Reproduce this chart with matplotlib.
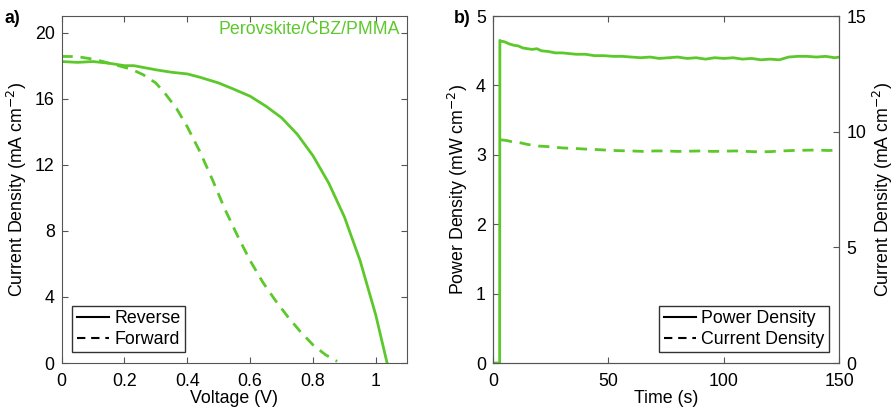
import numpy as np
import matplotlib
matplotlib.use("Agg")
import matplotlib.pyplot as plt

plt.rcParams['font.family'] = ['Liberation Sans', 'DejaVu Sans']
plt.rcParams['font.size'] = 12.8

green = "#5cc82c"

# panel a: J-V curves
v_rev = [0.0, 0.05, 0.1, 0.15, 0.2, 0.23, 0.3, 0.35, 0.40, 0.44, 0.5, 0.545, 0.6, 0.65, 0.7,
         0.75, 0.8, 0.85, 0.9, 0.95, 1.0, 1.036]
j_rev = [18.25, 18.2, 18.25, 18.15, 18.0, 18.0, 17.75, 17.6, 17.5, 17.3, 16.95, 16.6, 16.15, 15.55,
         14.85, 13.85, 12.55, 10.9, 8.85, 6.2, 2.9, 0.0]
v_fwd = [0.0, 0.05, 0.11, 0.16, 0.22, 0.26, 0.30, 0.33, 0.366, 0.40, 0.44, 0.48, 0.52, 0.56,
         0.60, 0.64, 0.68, 0.72, 0.76, 0.80, 0.84, 0.877]
j_fwd = [18.56, 18.55, 18.36, 18.1, 17.8, 17.45, 16.95, 16.3, 15.4, 14.3, 12.8, 11.1, 9.3, 7.7,
         6.2, 4.9, 3.8, 2.8, 1.9, 1.1, 0.5, 0.1]

# panel b: stabilised output
t_pow = [0, 2.9, 3.0, 3.5, 5, 7, 9, 11, 13, 15, 17, 19, 21, 24, 27, 30, 33, 36, 40, 44, 48, 52,
         56, 60, 64, 68, 72, 76, 80, 84, 88, 92, 96, 100, 104, 108, 112, 116, 120, 124, 128,
         132, 136, 140, 144, 148, 150]
p_pow = [0, 0, 4.65, 4.64, 4.63, 4.60, 4.58, 4.57, 4.54, 4.53, 4.52, 4.53, 4.50, 4.49, 4.47,
         4.47, 4.46, 4.45, 4.45, 4.43, 4.43, 4.42, 4.42, 4.41, 4.40, 4.41, 4.39, 4.40, 4.41,
         4.39, 4.40, 4.38, 4.40, 4.39, 4.40, 4.38, 4.39, 4.37, 4.38, 4.37, 4.41, 4.42, 4.42,
         4.41, 4.42, 4.40, 4.41]
t_cur = [3.5, 6, 9, 12, 15, 20, 25, 30, 35, 40, 45, 50, 55, 60, 65, 70, 75, 80, 85, 90, 95, 100,
         105, 110, 115, 120, 125, 130, 135, 140, 145, 150]
j_cur = [9.65, 9.62, 9.55, 9.52, 9.45, 9.38, 9.35, 9.3, 9.28, 9.25, 9.23, 9.2, 9.18, 9.17, 9.15,
         9.17, 9.17, 9.15, 9.16, 9.17, 9.15, 9.16, 9.17, 9.15, 9.13, 9.14, 9.17, 9.19, 9.2, 9.21,
         9.19, 9.2]

fig = plt.figure(figsize=(8.93, 4.13), dpi=100)
ax1 = fig.add_axes([0.069, 0.121, 0.387, 0.840])
ax2 = fig.add_axes([0.552, 0.121, 0.388, 0.840])

for ax in (ax1, ax2):
    for s in ax.spines.values():
        s.set_color("#555555")
    ax.tick_params(direction="in", color="#555555", length=4, pad=5)
    ax.tick_params(axis="x", pad=7)

dash = (0, (4, 2.8))
leg_kw = dict(fancybox=False, edgecolor="#333333", framealpha=1, borderaxespad=0.6,
              handlelength=1.8, handletextpad=0.3, borderpad=0.25, labelspacing=0.2)

ax1.plot(v_rev, j_rev, color=green, lw=2)
ax1.plot(v_fwd, j_fwd, color=green, lw=2, ls=dash)
ax1.set_xlim(0, 1.1)
ax1.set_ylim(0, 21)
ax1.set_xticks([0, 0.2, 0.4, 0.6, 0.8, 1])
ax1.set_xticklabels(["0", "0.2", "0.4", "0.6", "0.8", "1"])
ax1.set_yticks([0, 4, 8, 12, 16, 20])
ax1.tick_params(top=True, right=True)
ax1.set_xlabel("Voltage (V)", labelpad=0)
ax1.set_ylabel("Current Density (mA cm$^{-2}$)", labelpad=4)
ax1.text(0.98, 0.985, "Perovskite/CBZ/PMMA", color=green, transform=ax1.transAxes,
         ha="right", va="top")
h1, = ax1.plot([], [], color="black", lw=1.5)
h2, = ax1.plot([], [], color="black", lw=1.5, ls=dash)
ax1.legend([h1, h2], ["Reverse", "Forward"], loc="lower left", **leg_kw)
fig.text(0.005, 0.975, "a)", fontweight="bold", va="top")

ax2.plot(t_pow, p_pow, color=green, lw=2)
ax2.set_xlim(0, 150)
ax2.set_ylim(0, 5)
ax2.set_xticks([0, 50, 100, 150])
ax2.set_yticks([0, 1, 2, 3, 4, 5])
ax2.tick_params(top=True)
ax2.set_xlabel("Time (s)", labelpad=0)
ax2.set_ylabel("Power Density (mW cm$^{-2}$)", labelpad=4)
ax3 = ax2.twinx()
ax3.plot(t_cur, j_cur, color=green, lw=2, ls=dash)
ax3.set_ylim(0, 15)
ax3.set_yticks([0, 5, 10, 15])
ax3.tick_params(direction="in", color="#555555", length=4, pad=5)
for s in ax3.spines.values():
    s.set_color("#555555")
ax3.set_ylabel("Current Density (mA cm$^{-2}$)", labelpad=3)
h3, = ax2.plot([], [], color="black", lw=1.5)
h4, = ax2.plot([], [], color="black", lw=1.5, ls=dash)
ax2.legend([h3, h4], ["Power Density", "Current Density"], loc="lower right", **leg_kw)
fig.text(0.508, 0.975, "b)", fontweight="bold", va="top")

fig.savefig("out.png", dpi=100)
